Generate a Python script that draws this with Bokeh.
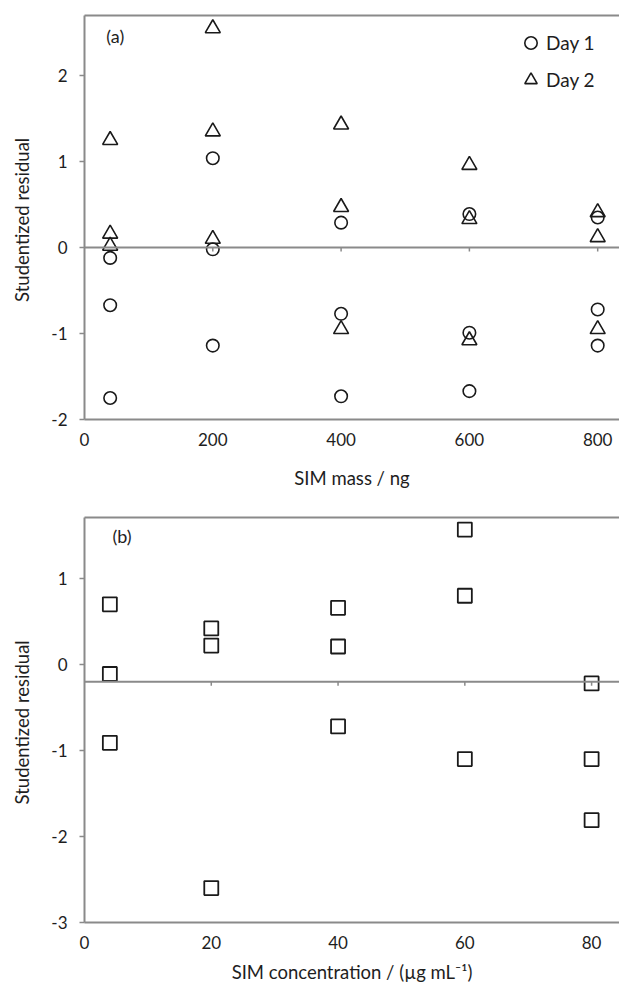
from bokeh.plotting import figure
from bokeh.layouts import column
from bokeh.models import Range1d, FixedTicker, Span, Legend, LegendItem, Label, LinearAxis
from bokeh.embed import file_html
from bokeh.resources import INLINE

# ---------------- data: panel (a) ----------------
mass_day1 = [40, 40, 40, 200, 200, 200, 400, 400, 400, 600, 600, 600, 800, 800, 800]
resid_day1 = [-0.12, -0.67, -1.75, 1.04, -0.02, -1.14, 0.29, -0.77, -1.73,
              0.39, -0.99, -1.67, 0.35, -0.72, -1.14]
mass_day2 = [40, 40, 40, 200, 200, 200, 400, 400, 400, 600, 600, 600, 800, 800, 800]
resid_day2 = [1.25, 0.16, 0.02, 2.55, 1.35, 0.10, 1.43, 0.47, -0.95,
              0.96, 0.33, -1.08, 0.41, 0.12, -0.95]
xticks_a = [0, 200, 400, 600, 800]
yticks_a = [-2, -1, 0, 1, 2]
cross_a = 0

# ---------------- data: panel (b) ----------------
conc_b = [4, 4, 4, 20, 20, 20, 40, 40, 40, 60, 60, 60, 80, 80, 80]
resid_b = [0.70, -0.11, -0.91, 0.42, 0.22, -2.60, 0.66, 0.21, -0.72,
           1.57, 0.80, -1.10, -0.22, -1.10, -1.81]
xticks_b = [0, 20, 40, 60, 80]
yticks_b = [-3, -2, -1, 0, 1]
cross_b = -0.2

FONT = "Lato"
AXC = "#8a8a8a"
MK = "#1a1a1a"
TXT = "#1e1e1e"


def style(p, xticks, yticks, cross, px_per_unit):
    p.outline_line_color = None
    p.grid.visible = False
    p.background_fill_color = "white"
    p.border_fill_color = "white"
    for ax in (p.xaxis[0], p.yaxis[0]):
        ax.axis_line_color = AXC
        ax.axis_line_width = 2
        ax.major_tick_line_color = AXC
        ax.major_tick_line_width = 1.5
        ax.minor_tick_line_color = None
        ax.major_label_text_font = FONT
        ax.major_label_text_font_size = "17px"
        ax.major_label_text_color = TXT
        ax.axis_label_text_font = FONT
        ax.axis_label_text_font_size = "18.5px"
        ax.axis_label_text_font_style = "normal"
        ax.axis_label_text_color = TXT
    p.xaxis.ticker = FixedTicker(ticks=xticks)
    p.yaxis.ticker = FixedTicker(ticks=yticks)
    p.xaxis.major_label_overrides = {t: str(t) for t in xticks}
    p.yaxis.major_label_overrides = {t: str(t) for t in yticks}
    p.xaxis.major_tick_out = 0
    p.xaxis.major_tick_in = 0
    p.yaxis.major_tick_out = 5
    p.yaxis.major_tick_in = 0
    p.yaxis.major_label_standoff = 12
    p.yaxis.axis_label_standoff = 15
    # top border line
    top = LinearAxis(ticker=FixedTicker(ticks=[]), axis_line_color=AXC, axis_line_width=2,
                     major_tick_out=0, major_tick_in=0, minor_tick_out=0, minor_tick_in=0,
                     major_label_text_font_size="0px", major_label_standoff=0)
    p.add_layout(top, "above")
    # horizontal crossing axis with downward ticks
    p.add_layout(Span(location=cross, dimension="width", line_color=AXC, line_width=2))
    tlen = 4.0 / px_per_unit
    tx = [t for t in xticks if t != 0]
    p.segment(x0=tx, y0=[cross] * len(tx), x1=tx, y1=[cross - tlen] * len(tx),
              line_color=AXC, line_width=1.5)


# ---------------- panel (a) ----------------
p1 = figure(width=619, height=497, output_backend="svg", toolbar_location=None,
            x_range=Range1d(0, 834), y_range=Range1d(-2, 2.70),
            min_border_left=84, min_border_right=0, min_border_top=15, min_border_bottom=78)
p1.xaxis.axis_label = "SIM mass / ng"
p1.yaxis.axis_label = "Studentized  residual"
style(p1, xticks_a, yticks_a, cross_a, 86.0)
p1.xaxis.major_label_standoff = 13
p1.xaxis.axis_label_standoff = 18

r1 = p1.scatter(mass_day1, resid_day1, marker="circle", size=12.5, fill_color=None,
                line_color=MK, line_width=1.6)
r2 = p1.scatter(mass_day2, resid_day2, marker="triangle", size=15, fill_color=None,
                line_color=MK, line_width=1.6)
leg = Legend(items=[LegendItem(label="Day 1", renderers=[r1]),
                    LegendItem(label="Day 2", renderers=[r2])],
             location=(431, 324), border_line_color=None, background_fill_alpha=0,
             label_text_font=FONT, label_text_font_size="19px", label_text_color=TXT,
             glyph_width=31, glyph_height=31, label_height=31, label_standoff=-2,
             spacing=6, margin=0, padding=9)
p1.add_layout(leg)
p1.add_layout(Label(x=34, y=2.46, text="(a)", text_font=FONT, text_font_size="18px",
                    text_baseline="middle", text_color=TXT))

# ---------------- panel (b) ----------------
p2 = figure(width=619, height=489, output_backend="svg", toolbar_location=None,
            x_range=Range1d(0, 84.4), y_range=Range1d(-3, 1.71),
            min_border_left=84, min_border_right=0, min_border_top=20, min_border_bottom=64)
p2.xaxis.axis_label = "SIM concentration / (µg mL⁻¹)"
p2.yaxis.axis_label = "Studentized  residual"
style(p2, xticks_b, yticks_b, cross_b, 86.0)
p2.xaxis.major_label_standoff = 13
p2.xaxis.axis_label_standoff = 9

p2.scatter(conc_b, resid_b, marker="square", size=14, fill_color=None,
           line_color=MK, line_width=1.8)
p2.add_layout(Label(x=4.4, y=1.50, text="(b)", text_font=FONT, text_font_size="18px",
                    text_baseline="middle", text_color=TXT))

layout = column(p1, p2, spacing=0)
open("out.html", "w").write(file_html(layout, INLINE))
